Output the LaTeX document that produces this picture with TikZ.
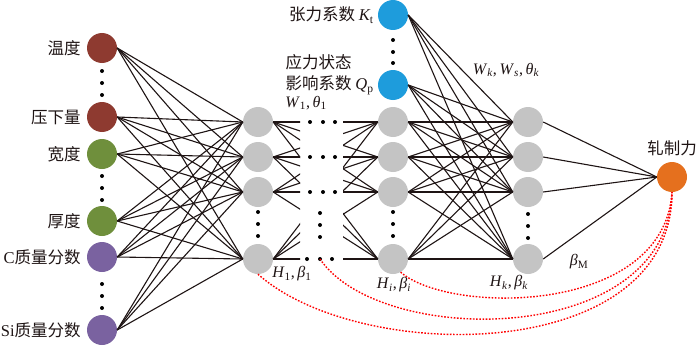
\documentclass[tikz,border=0pt]{standalone}
\usepackage{fontspec}
\setmainfont{Liberation Serif}
\newfontfamily\cjk{Noto Sans CJK SC}
\usetikzlibrary{positioning}
\definecolor{nnred}{HTML}{8E3A30}
\definecolor{nngreen}{HTML}{6F8F3C}
\definecolor{nnpurple}{HTML}{7A62A0}
\definecolor{nnblue}{HTML}{1E9CDC}
\definecolor{nngray}{HTML}{C4C4C4}
\definecolor{nnorange}{HTML}{E5701E}
\definecolor{nnink}{HTML}{1E1414}

\tikzset{
  neuron/.style={circle,minimum size=30pt,inner sep=0pt,fill=#1},
  wire/.style={nnink,line width=1.1pt},
  feed/.style={red,line width=1.4pt,dash pattern=on 1.6pt off 1.6pt},
  cnlabel/.style={font=\cjk\fontsize{16.5}{18}\selectfont,inner sep=1pt,text=nnink},
  symlabel/.style={font=\fontsize{16}{18}\selectfont,inner sep=1pt,text=nnink}
}
\newcommand{\dotcol}[3]{\foreach \yy in {#2} \fill[black] (#1,\yy) circle (#3);}

\begin{document}
\begin{tikzpicture}[x=1pt,y=-1pt]
    \useasboundingbox (0,0) rectangle (700,345);
    % input layer
    \foreach \n/\c/\y in {in1/nnred/48,in2/nnred/117,in3/nngreen/154,
      in4/nngreen/221,in5/nnpurple/257,in6/nnpurple/330}
      \node[neuron=\c] (\n) at (102,\y) {};
    \node[cnlabel,left=5pt of in1] (lab1) {温度};
    \node[cnlabel,left=5pt of in2] (lab2) {压下量};
    \node[cnlabel,left=5pt of in3] (lab3) {宽度};
    \node[cnlabel,left=5pt of in4] (lab4) {厚度};
    \node[cnlabel,left=5pt of in5] (lab5) {{\rmfamily C}质量分数};
    \node[cnlabel,left=5pt of in6] (lab6) {{\rmfamily Si}质量分数};
    % hidden layers
    \foreach \x/\l in {258/a,393/b,528/c}
      \foreach \y/\m in {122/1,157/2,192/3,259/4}
        \node[neuron=nngray] (h\l\m) at (\x,\y) {};
    \node[neuron=nnblue] (kt) at (393,15) {};
    \node[neuron=nnblue] (qp) at (393,85) {};
    \node[neuron=nnorange] (out) at (672,177) {};
    \node[cnlabel,left=3pt of kt] (ktlab) {张力系数 {\rmfamily\itshape K}\textsubscript{\rmfamily t}};
    \node[cnlabel,left=3pt of qp] (qplab) {影响系数 {\rmfamily\itshape Q}\textsubscript{\rmfamily p}};
    \node[cnlabel,anchor=west] (stress) at (qplab.west |- 0,62) {应力状态};
    \node[cnlabel,above=5pt of out] (outlab) {轧制力};
    % connections
    \foreach \i in {1,...,6}
      \foreach \j in {1,...,4}
        \draw[wire] (in\i.east) -- (ha\j.west);
    \begin{scope}
      \clip (0,0) rectangle (300,345);
      \foreach \i in {1,...,4}
        \foreach \j in {1,...,4}
          \draw[wire] (ha\i.east) -- (hb\j.west);
    \end{scope}
    \begin{scope}
      \clip (343,0) rectangle (700,345);
      \foreach \i in {1,...,4}
        \foreach \j in {1,...,4}
          \draw[wire] (ha\i.east) -- (hb\j.west);
    \end{scope}
    \foreach \i in {kt,qp,hb1,hb2,hb3,hb4}
      \foreach \j in {1,...,4}
        \draw[wire] (\i.east) -- (hc\j.west);
    \foreach \j in {1,...,4}
      \draw[wire] (hc\j.east) -- (out.west);
    % dots
    \dotcol{102}{71,83,95}{2pt}
    \dotcol{102}{176,188,200}{2pt}
    \dotcol{102}{284,296,308}{2pt}
    \dotcol{258}{212,224,236}{2pt}
    \dotcol{393}{212,224,236}{2pt}
    \dotcol{528}{214,226,238}{2pt}
    \dotcol{393}{40,52,63}{2pt}
    \dotcol{320}{213,225,237}{2pt}
    \foreach \y in {122,157,192}
      \foreach \x in {310,323,335}
        \fill[black] (\x,\y) circle (2pt);
    \foreach \x in {307,320,332}
      \fill[black] (\x,259) circle (2pt);
    \coordinate (mid) at (320,259);
    % parameter labels
    \node[symlabel] (w1) at (306,103) {\textit{W}\textsubscript{1}{,}\,\textit{θ}\textsubscript{1}};
    \node[symlabel] (hb1lab) at (292,274) {\textit{H}\textsubscript{1}{,}\,\textit{β}\textsubscript{1}};
    \node[symlabel] (hilab) at (394,285) {\textit{H}\textsubscript{\textit{i}}{,}\,\textit{β}\textsubscript{\textit{i}}};
    \node[symlabel] (hklab) at (509,283) {\textit{H}\textsubscript{\textit{k}}{,}\,\textit{β}\textsubscript{\textit{k}}};
    \node[symlabel] (wklab) at (506,70) {\textit{W}\textsubscript{\textit{k}}{,}\,\textit{W}\textsubscript{\textit{s}}{,}\,\textit{θ}\textsubscript{\textit{k}}};
    \node[symlabel] (bmlab) at (579,262) {\textit{β}\textsubscript{M}};
    % feedback curves
    \draw[feed] (ha4.south) .. controls (360,365) and (672,365) .. (out.south);
    \draw[feed] (mid) .. controls (380,348) and (668,348) .. (out.south);
    \draw[feed] (hb4.-60) .. controls (450,315) and (664,315) .. (out.south);
\end{tikzpicture}
\end{document}
